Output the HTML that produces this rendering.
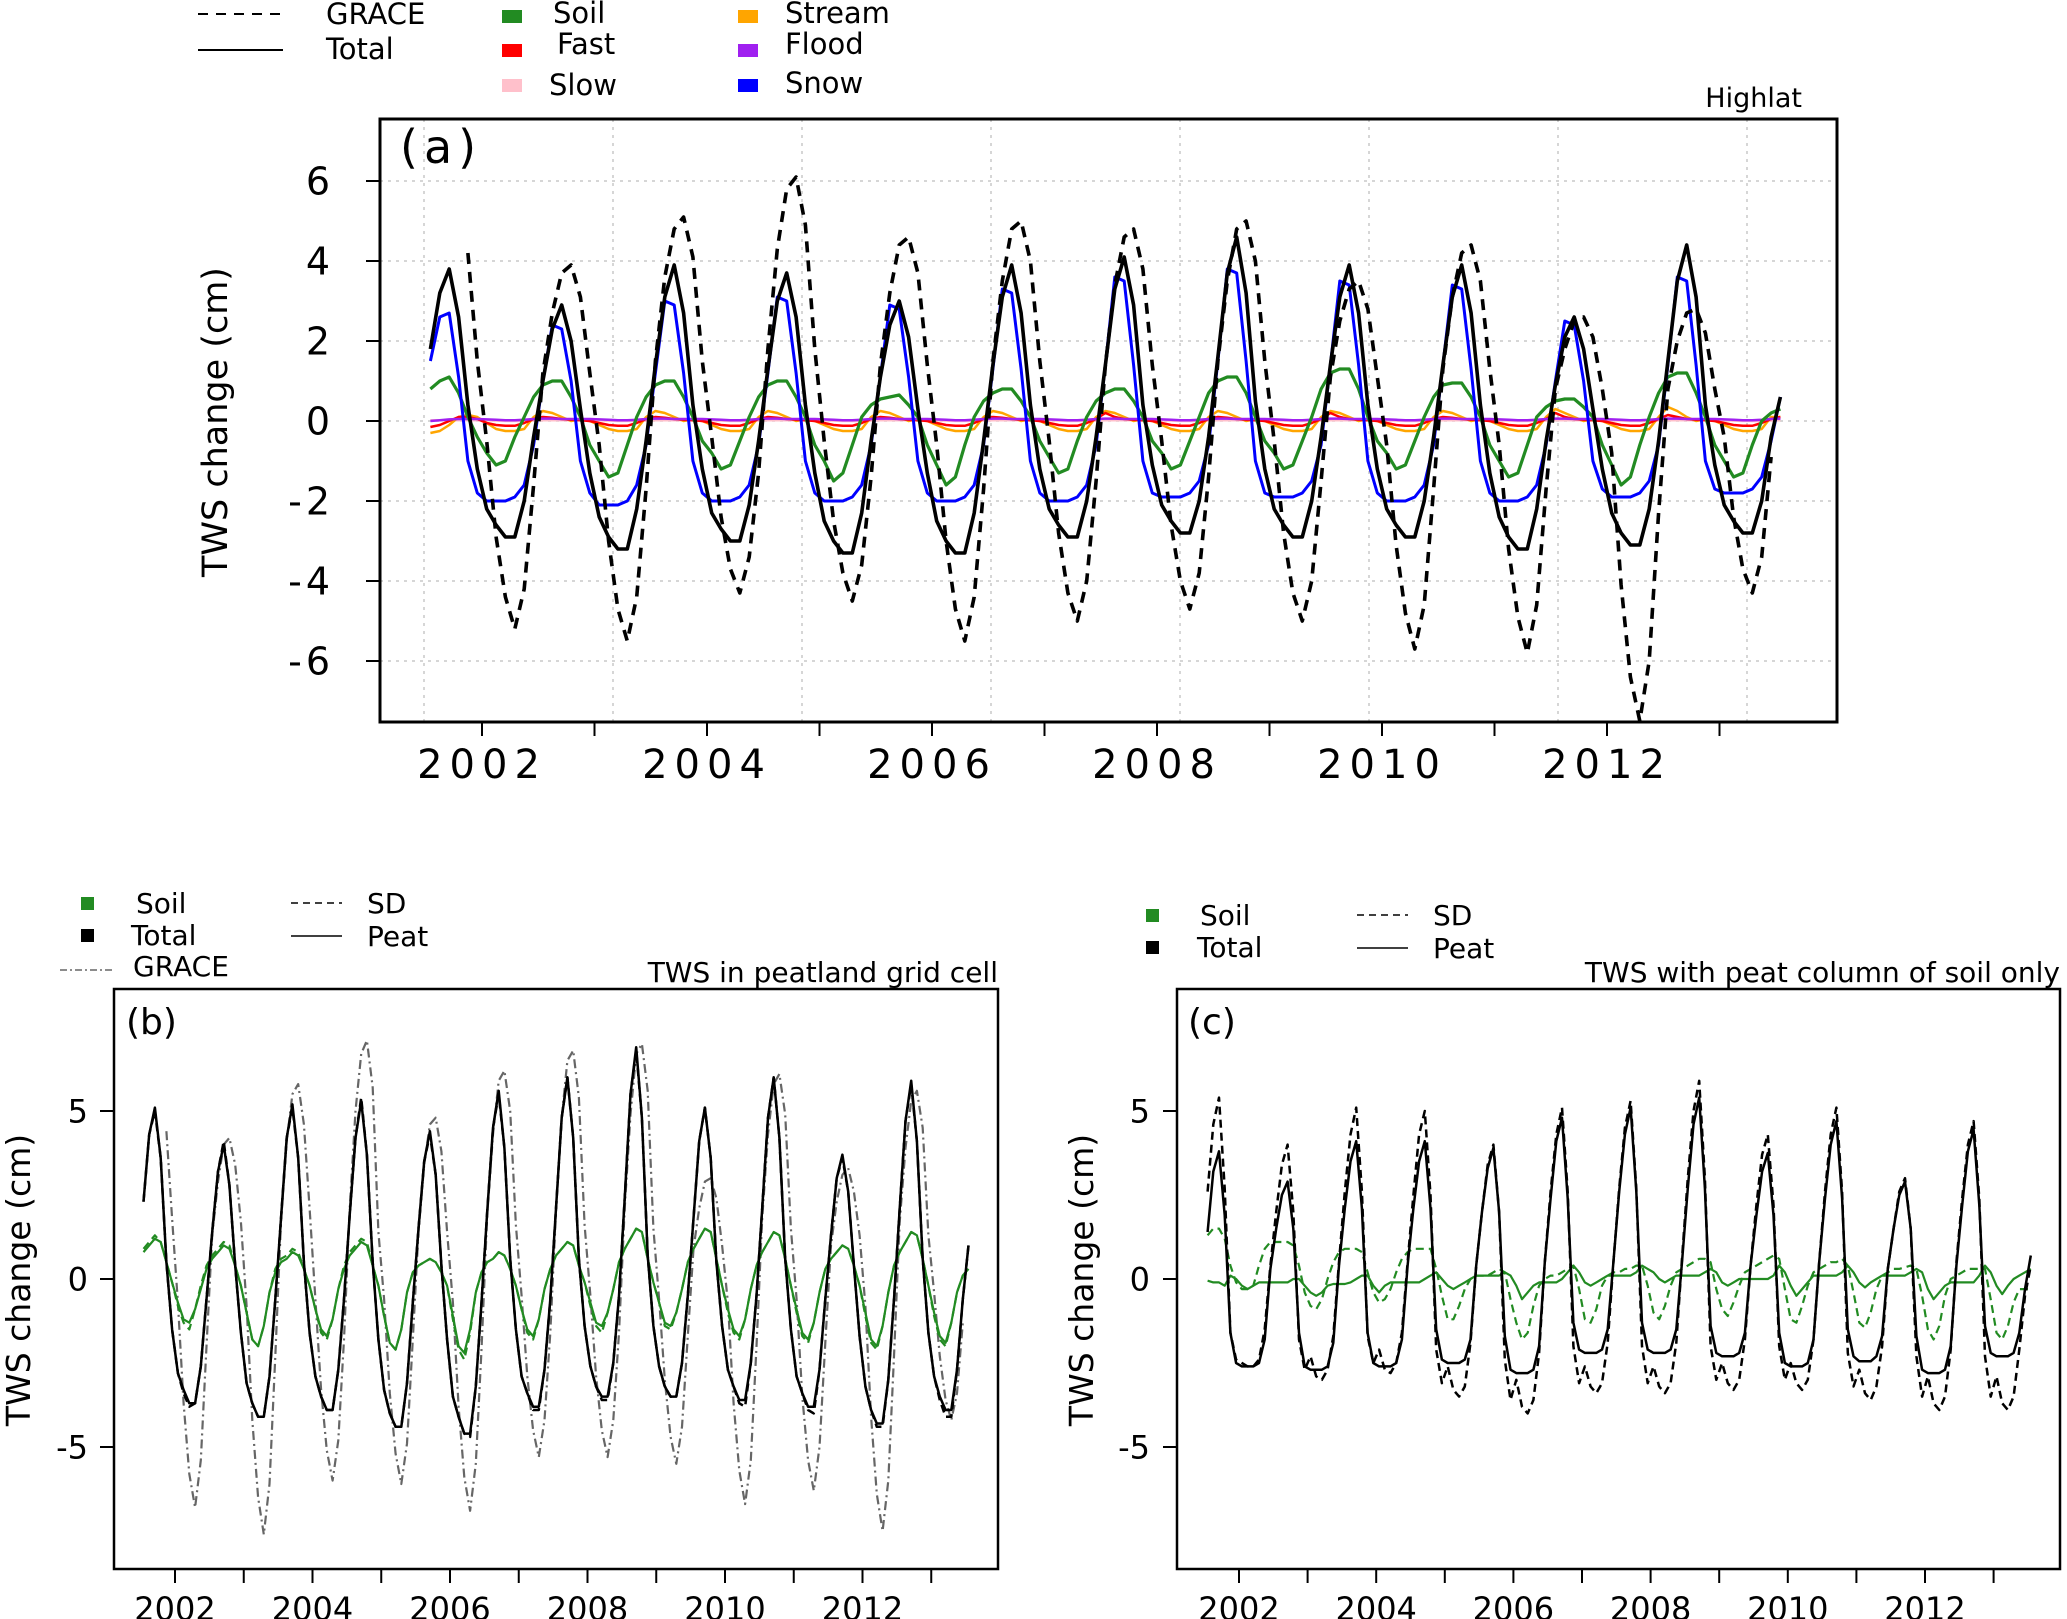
<!DOCTYPE html>
<html><head><meta charset="utf-8"><title>TWS change</title>
<style>
html,body{margin:0;padding:0;background:#fff;}
svg{display:block;font-family:"DejaVu Sans","Liberation Sans",sans-serif;}
</style></head>
<body>
<svg id="chart" width="2067" height="1619" viewBox="0 0 2067 1619" xmlns="http://www.w3.org/2000/svg">
<rect x="0" y="0" width="2067" height="1619" fill="#fff"/>
<!-- Panel a legend -->
<g font-size="29">
<line x1="198" y1="14" x2="283" y2="14" stroke="#000" stroke-width="2" stroke-dasharray="10,8"/>
<text x="326" y="24">GRACE</text>
<line x1="198" y1="50" x2="283" y2="50" stroke="#000" stroke-width="2"/>
<text x="326" y="59">Total</text>
<rect x="502" y="10" width="20" height="13" fill="#228B22"/>
<text x="553" y="23">Soil</text>
<rect x="502" y="44" width="20" height="13" fill="#ff0000"/>
<text x="557" y="54">Fast</text>
<rect x="502" y="79" width="20" height="13" fill="#ffc0cb"/>
<text x="549" y="95">Slow</text>
<rect x="738" y="10" width="20" height="13" fill="#ffa500"/>
<text x="785" y="23">Stream</text>
<rect x="738" y="44" width="20" height="13" fill="#a020f0"/>
<text x="785" y="54">Flood</text>
<rect x="738" y="79" width="20" height="13" fill="#0000ff"/>
<text x="785" y="93">Snow</text>
</g>
<text x="1802" y="107" font-size="27" text-anchor="end">Highlat</text>
<!-- Panel b legend -->
<g font-size="28">
<rect x="81" y="897" width="13" height="13" fill="#228B22"/>
<text x="136" y="913">Soil</text>
<rect x="81" y="929" width="13" height="13" fill="#000"/>
<text x="131" y="945">Total</text>
<line x1="60" y1="970" x2="113" y2="970" stroke="#666" stroke-width="1.5" stroke-dasharray="7,3,2,3"/>
<text x="133" y="976">GRACE</text>
<line x1="291" y1="903" x2="342" y2="903" stroke="#000" stroke-width="1.5" stroke-dasharray="7,5"/>
<text x="367" y="913">SD</text>
<line x1="291" y1="936" x2="342" y2="936" stroke="#000" stroke-width="1.5"/>
<text x="367" y="946">Peat</text>
</g>
<text x="998" y="982" font-size="28" text-anchor="end">TWS in peatland grid cell</text>
<!-- Panel c legend -->
<g font-size="28">
<rect x="1146" y="909" width="13" height="13" fill="#228B22"/>
<text x="1200" y="925">Soil</text>
<rect x="1146" y="941" width="13" height="13" fill="#000"/>
<text x="1197" y="957">Total</text>
<line x1="1357" y1="915" x2="1408" y2="915" stroke="#000" stroke-width="1.5" stroke-dasharray="7,5"/>
<text x="1433" y="925">SD</text>
<line x1="1357" y1="948" x2="1408" y2="948" stroke="#000" stroke-width="1.5"/>
<text x="1433" y="958">Peat</text>
</g>
<text x="2060" y="982" font-size="28" text-anchor="end">TWS with peat column of soil only</text>
</svg>
<script>
// ---------- data (monthly, starting Jul 2001) ----------
const startMonthIndex = 6; // Jul 2001
const yearTicks = [2002,2003,2004,2005,2006,2007,2008,2009,2010,2011,2012,2013];
const yearLabels = ["2002","2004","2006","2008","2010","2012"];
const yTicksA = [6,4,2,0,-2,-4,-6];
const yTicksBC = [5,0,-5];

// Panel a
const aTotal = [1.8,3.2,3.8,2.6,0.4,-1.2,
-2.2,-2.6,-2.9,-2.9,-2.0,-0.4,1.0,2.3,2.9,2.0,0.3,-1.3,
-2.4,-2.9,-3.2,-3.2,-2.2,-0.5,1.4,3.1,3.9,2.7,0.4,-1.2,
-2.3,-2.7,-3.0,-3.0,-2.1,-0.5,1.3,3.0,3.7,2.6,0.4,-1.3,
-2.5,-3.0,-3.3,-3.3,-2.3,-0.5,1.1,2.4,3.0,2.1,0.3,-1.3,
-2.5,-3.0,-3.3,-3.3,-2.3,-0.5,1.4,3.1,3.9,2.7,0.4,-1.2,
-2.2,-2.6,-2.9,-2.9,-2.0,-0.4,1.4,3.3,4.1,2.9,0.4,-1.1,
-2.1,-2.5,-2.8,-2.8,-2.0,-0.4,1.6,3.7,4.6,3.2,0.5,-1.2,
-2.2,-2.6,-2.9,-2.9,-2.0,-0.4,1.4,3.1,3.9,2.7,0.4,-1.2,
-2.2,-2.6,-2.9,-2.9,-2.0,-0.4,1.4,3.1,3.9,2.7,0.4,-1.3,
-2.4,-2.9,-3.2,-3.2,-2.2,-0.5,0.9,2.1,2.6,1.8,0.3,-1.2,
-2.3,-2.8,-3.1,-3.1,-2.2,-0.5,1.5,3.5,4.4,3.1,0.4,-1.1,
-2.1,-2.5,-2.8,-2.8,-2.0,-0.4,0.6];
const graceStartOffset = 4; // Nov 2001
const aGrace = [4.2,1.5,
-0.5,-2.9,-4.4,-5.2,-4.2,-1.6,1.2,2.7,3.7,3.9,3.1,1.2,
-0.6,-3.0,-4.7,-5.5,-4.4,-1.7,1.5,3.6,4.8,5.1,4.1,1.5,
-0.4,-2.4,-3.7,-4.3,-3.4,-1.3,1.8,4.3,5.8,6.1,4.9,1.8,
-0.5,-2.5,-3.8,-4.5,-3.6,-1.4,1.4,3.2,4.4,4.6,3.7,1.4,
-0.6,-3.0,-4.7,-5.5,-4.4,-1.7,1.5,3.5,4.8,5.0,4.0,1.5,
-0.5,-2.8,-4.3,-5.0,-4.0,-1.5,1.4,3.4,4.6,4.8,3.8,1.4,
-0.5,-2.6,-4.0,-4.7,-3.8,-1.4,1.5,3.5,4.8,5.0,4.0,1.5,
-0.5,-2.8,-4.3,-5.0,-4.0,-1.5,1.1,2.5,3.3,3.5,2.8,1.1,
-0.6,-3.1,-4.8,-5.7,-4.6,-1.7,1.3,3.1,4.2,4.4,3.5,1.3,
-0.6,-3.2,-4.9,-5.8,-4.6,-1.7,0.8,1.8,2.5,2.6,2.1,0.8,
-0.8,-4.1,-6.4,-7.5,-6.0,-2.3,0.8,2.0,2.7,2.8,2.2,0.8,
-0.4,-2.4,-3.7,-4.3,-3.4,-0.9];
const aSnow = [1.5,2.6,2.7,1.1,-1.0,-1.8,
-2.0,-2.0,-2.0,-1.9,-1.6,-0.6,1.0,2.4,2.3,1.0,-1.0,-1.8,
-2.1,-2.1,-2.1,-2.0,-1.6,-0.6,1.2,3.0,2.9,1.2,-1.0,-1.8,
-2.0,-2.0,-2.0,-1.9,-1.6,-0.6,1.2,3.1,3.0,1.2,-1.0,-1.8,
-2.0,-2.0,-2.0,-1.9,-1.6,-0.6,1.1,2.9,2.8,1.1,-1.0,-1.8,
-2.0,-2.0,-2.0,-1.9,-1.6,-0.6,1.3,3.3,3.2,1.3,-1.0,-1.8,
-2.0,-2.0,-2.0,-1.9,-1.6,-0.6,1.4,3.6,3.5,1.4,-1.0,-1.8,
-1.9,-1.9,-1.9,-1.8,-1.5,-0.6,1.5,3.8,3.7,1.5,-1.0,-1.8,
-1.9,-1.9,-1.9,-1.8,-1.5,-0.6,1.4,3.5,3.4,1.4,-1.0,-1.8,
-2.0,-2.0,-2.0,-1.9,-1.6,-0.6,1.4,3.4,3.3,1.3,-1.0,-1.8,
-2.0,-2.0,-2.0,-1.9,-1.6,-0.6,1.0,2.5,2.4,1.0,-1.0,-1.7,
-1.9,-1.9,-1.9,-1.8,-1.5,-0.6,1.4,3.6,3.5,1.4,-1.0,-1.7,
-1.8,-1.8,-1.8,-1.7,-1.4,-0.5,0.6];
const aSoil = [0.8,1.0,1.1,0.7,0.1,-0.4,
-0.8,-1.1,-1.0,-0.4,0.1,0.6,0.9,1.0,1.0,0.6,0.1,-0.6,
-1.0,-1.4,-1.3,-0.6,0.1,0.6,0.9,1.0,1.0,0.6,0.1,-0.5,
-0.8,-1.2,-1.1,-0.5,0.1,0.6,0.9,1.0,1.0,0.6,0.1,-0.6,
-1.0,-1.5,-1.3,-0.6,0.1,0.4,0.55,0.6,0.65,0.4,0.1,-0.6,
-1.1,-1.6,-1.4,-0.6,0.1,0.5,0.7,0.8,0.8,0.5,0.1,-0.5,
-0.9,-1.3,-1.2,-0.5,0.1,0.5,0.7,0.8,0.8,0.5,0.1,-0.5,
-0.8,-1.2,-1.1,-0.5,0.1,0.7,1.0,1.1,1.1,0.7,0.1,-0.5,
-0.8,-1.2,-1.1,-0.5,0.1,0.8,1.2,1.3,1.3,0.8,0.1,-0.5,
-0.8,-1.2,-1.1,-0.5,0.1,0.6,0.9,0.95,0.95,0.6,0.1,-0.6,
-1.0,-1.4,-1.3,-0.6,0.1,0.35,0.5,0.55,0.55,0.35,0.1,-0.6,
-1.1,-1.6,-1.4,-0.6,0.1,0.7,1.1,1.2,1.2,0.7,0.1,-0.6,
-1.0,-1.4,-1.3,-0.6,0.0,0.2,0.3];
const aStream = [-0.3,-0.25,-0.1,0.1,0.15,0.1,
-0.05,-0.2,-0.25,-0.25,-0.2,0.1,0.25,0.2,0.1,0.0,0.05,0.0,
-0.1,-0.2,-0.25,-0.25,-0.2,0.1,0.25,0.2,0.1,0.0,0.05,0.0,
-0.1,-0.2,-0.25,-0.25,-0.2,0.1,0.25,0.2,0.1,0.0,0.05,0.0,
-0.1,-0.2,-0.25,-0.25,-0.2,0.1,0.25,0.2,0.1,0.0,0.05,0.0,
-0.1,-0.2,-0.25,-0.25,-0.2,0.1,0.25,0.2,0.1,0.0,0.05,0.0,
-0.1,-0.2,-0.25,-0.25,-0.2,0.1,0.25,0.2,0.1,0.0,0.05,0.0,
-0.1,-0.2,-0.25,-0.25,-0.2,0.1,0.25,0.2,0.1,0.0,0.05,0.0,
-0.1,-0.2,-0.25,-0.25,-0.2,0.1,0.25,0.2,0.1,0.0,0.05,0.0,
-0.1,-0.2,-0.25,-0.25,-0.2,0.1,0.25,0.2,0.1,0.0,0.05,0.0,
-0.1,-0.2,-0.25,-0.25,-0.2,0.1,0.3,0.2,0.1,0.0,0.05,0.0,
-0.1,-0.2,-0.25,-0.25,-0.2,0.1,0.35,0.25,0.1,0.0,0.05,0.0,
-0.1,-0.2,-0.25,-0.25,-0.2,0.1,0.1];
const aFast = [-0.15,-0.1,0.0,0.1,0.1,0.05,
-0.05,-0.1,-0.12,-0.12,-0.05,0.05,0.1,0.08,0.05,0.03,0.02,0.0,
-0.05,-0.1,-0.12,-0.12,-0.05,0.05,0.1,0.08,0.05,0.03,0.02,0.0,
-0.05,-0.1,-0.12,-0.12,-0.05,0.05,0.1,0.08,0.05,0.03,0.02,0.0,
-0.05,-0.1,-0.12,-0.12,-0.05,0.05,0.1,0.08,0.05,0.03,0.02,0.0,
-0.05,-0.1,-0.12,-0.12,-0.05,0.05,0.1,0.08,0.05,0.03,0.02,0.0,
-0.05,-0.1,-0.12,-0.12,-0.05,0.05,0.2,0.1,0.05,0.03,0.02,0.0,
-0.05,-0.1,-0.12,-0.12,-0.05,0.05,0.1,0.08,0.05,0.03,0.02,0.0,
-0.05,-0.1,-0.12,-0.12,-0.05,0.05,0.2,0.1,0.05,0.03,0.02,0.0,
-0.05,-0.1,-0.12,-0.12,-0.05,0.05,0.1,0.08,0.05,0.03,0.02,0.0,
-0.05,-0.1,-0.12,-0.12,-0.05,0.05,0.2,0.1,0.05,0.03,0.02,0.0,
-0.05,-0.1,-0.12,-0.12,-0.05,0.05,0.15,0.1,0.05,0.03,0.02,0.0,
-0.05,-0.1,-0.12,-0.12,-0.05,0.05,0.1];
const aSlow = [0.02,0.02,0.02,0.02,0.02,0.02,
0.02,0.01,0.0,0.0,0.0,0.01,0.02,0.02,0.02,0.02,0.02,0.02,
0.02,0.01,0.0,0.0,0.0,0.01,0.02,0.02,0.02,0.02,0.02,0.02,
0.02,0.01,0.0,0.0,0.0,0.01,0.02,0.02,0.02,0.02,0.02,0.02,
0.02,0.01,0.0,0.0,0.0,0.01,0.02,0.02,0.02,0.02,0.02,0.02,
0.02,0.01,0.0,0.0,0.0,0.01,0.02,0.02,0.02,0.02,0.02,0.02,
0.02,0.01,0.0,0.0,0.0,0.01,0.02,0.02,0.02,0.02,0.02,0.02,
0.02,0.01,0.0,0.0,0.0,0.01,0.02,0.02,0.02,0.02,0.02,0.02,
0.02,0.01,0.0,0.0,0.0,0.01,0.02,0.02,0.02,0.02,0.02,0.02,
0.02,0.01,0.0,0.0,0.0,0.01,0.02,0.02,0.02,0.02,0.02,0.02,
0.02,0.01,0.0,0.0,0.0,0.01,0.02,0.02,0.02,0.02,0.02,0.02,
0.02,0.01,0.0,0.0,0.0,0.01,0.02,0.02,0.02,0.02,0.02,0.02,
0.02,0.01,0.0,0.0,0.0,0.01,0.02];
const aFlood = [0.0,0.02,0.04,0.05,0.05,0.05,
0.04,0.03,0.02,0.02,0.03,0.05,0.06,0.06,0.05,0.05,0.05,0.05,
0.04,0.03,0.02,0.02,0.03,0.05,0.06,0.06,0.05,0.05,0.05,0.05,
0.04,0.03,0.02,0.02,0.03,0.05,0.06,0.06,0.05,0.05,0.05,0.05,
0.04,0.03,0.02,0.02,0.03,0.05,0.06,0.06,0.05,0.05,0.05,0.05,
0.04,0.03,0.02,0.02,0.03,0.05,0.06,0.06,0.05,0.05,0.05,0.05,
0.04,0.03,0.02,0.02,0.03,0.05,0.06,0.06,0.05,0.05,0.05,0.05,
0.04,0.03,0.02,0.02,0.03,0.05,0.06,0.06,0.05,0.05,0.05,0.05,
0.04,0.03,0.02,0.02,0.03,0.05,0.06,0.06,0.05,0.05,0.05,0.05,
0.04,0.03,0.02,0.02,0.03,0.05,0.06,0.06,0.05,0.05,0.05,0.05,
0.04,0.03,0.02,0.02,0.03,0.05,0.06,0.06,0.05,0.05,0.05,0.05,
0.04,0.03,0.02,0.02,0.03,0.05,0.06,0.06,0.05,0.05,0.05,0.05,
0.04,0.03,0.02,0.02,0.03,0.05,0.06];

// Panel b
const bPeatTotal = [2.3,4.3,5.1,3.6,0.5,-1.5,
-2.8,-3.3,-3.7,-3.7,-2.6,-0.6,1.4,3.2,4.0,2.8,0.4,-1.6,
-3.1,-3.7,-4.1,-4.1,-2.9,-0.6,1.8,4.2,5.2,3.6,0.5,-1.6,
-2.9,-3.5,-3.9,-3.9,-2.7,-0.6,1.9,4.2,5.3,3.7,0.5,-1.8,
-3.3,-4.0,-4.4,-4.4,-3.1,-0.7,1.5,3.5,4.4,3.1,0.4,-1.8,
-3.5,-4.1,-4.6,-4.6,-3.2,-0.7,2.0,4.5,5.6,3.9,0.6,-1.5,
-2.9,-3.4,-3.8,-3.8,-2.7,-0.6,2.1,4.8,6.0,4.2,0.6,-1.4,
-2.6,-3.2,-3.5,-3.5,-2.5,-0.5,2.4,5.5,6.9,4.8,0.7,-1.4,
-2.6,-3.2,-3.5,-3.5,-2.5,-0.5,1.8,4.1,5.1,3.6,0.5,-1.4,
-2.7,-3.2,-3.6,-3.6,-2.5,-0.5,2.1,4.8,6.0,4.2,0.6,-1.5,
-2.9,-3.4,-3.8,-3.8,-2.7,-0.6,1.3,3.0,3.7,2.6,0.4,-1.7,
-3.2,-3.9,-4.3,-4.3,-3.0,-0.6,2.1,4.7,5.9,4.1,0.6,-1.6,
-2.9,-3.5,-3.9,-3.9,-2.7,-0.6,1.0];
const bSdTotal = [2.3,4.3,5.0,3.6,0.5,-1.5,
-2.8,-3.4,-3.8,-3.7,-2.6,-0.6,1.4,3.2,4.1,2.8,0.4,-1.6,
-3.1,-3.7,-4.1,-4.1,-2.9,-0.6,1.8,4.2,5.1,3.6,0.5,-1.6,
-2.9,-3.5,-3.9,-3.9,-2.7,-0.6,1.9,4.2,5.4,3.7,0.5,-1.8,
-3.3,-4.0,-4.4,-4.4,-3.1,-0.7,1.5,3.5,4.3,3.1,0.4,-1.8,
-3.5,-4.1,-4.6,-4.7,-3.2,-0.7,2.0,4.5,5.5,3.9,0.6,-1.5,
-2.9,-3.4,-3.9,-3.9,-2.7,-0.6,2.1,4.8,6.0,4.2,0.6,-1.4,
-2.6,-3.2,-3.6,-3.6,-2.5,-0.5,2.4,5.5,6.8,4.8,0.7,-1.4,
-2.6,-3.2,-3.5,-3.5,-2.5,-0.5,1.8,4.1,5.1,3.6,0.5,-1.4,
-2.7,-3.2,-3.7,-3.8,-2.5,-0.5,2.1,4.8,6.0,4.2,0.6,-1.5,
-2.9,-3.4,-3.9,-4.0,-2.7,-0.6,1.3,3.0,3.6,2.6,0.4,-1.7,
-3.2,-3.9,-4.4,-4.4,-3.0,-0.6,2.1,4.7,5.8,4.1,0.6,-1.6,
-2.9,-3.6,-4.1,-4.1,-2.7,-0.6,1.0];
const bGrace = [4.4,1.8,
-0.7,-3.7,-5.8,-6.8,-5.4,-2.0,1.3,2.9,4.0,4.2,3.4,1.7,
-0.8,-4.2,-6.5,-7.6,-6.1,-2.3,1.7,4.1,5.5,5.8,4.6,2.1,
-0.6,-3.3,-5.1,-6.0,-4.8,-1.8,2.1,5.0,6.7,7.1,5.7,1.4,
-0.6,-3.4,-5.2,-6.1,-4.9,-1.8,1.4,3.4,4.6,4.8,3.8,1.4,
-0.7,-3.8,-5.9,-6.9,-5.5,-2.1,1.9,4.3,5.9,6.2,5.0,1.6,
-0.5,-2.9,-4.5,-5.3,-4.2,-1.6,2.0,4.8,6.5,6.8,5.4,1.6,
-0.5,-2.9,-4.5,-5.3,-4.2,-1.6,2.1,4.9,6.7,7.0,5.6,1.5,
-0.6,-3.0,-4.7,-5.5,-4.4,-1.7,0.9,2.1,2.9,3.0,2.4,1.0,
-0.7,-3.7,-5.7,-6.7,-5.4,-2.0,1.8,4.3,5.8,6.1,4.9,1.5,
-0.6,-3.5,-5.4,-6.3,-5.0,-1.9,1.0,2.3,3.1,3.3,2.6,1.3,
-0.8,-4.1,-6.4,-7.5,-6.0,-2.3,1.7,3.9,5.3,5.6,4.5,1.3,
-0.4,-2.3,-3.6,-4.2,-3.4,-1.3];
const bPeatSoil = [0.8,1.0,1.2,1.1,0.5,-0.1,
-0.7,-1.2,-1.3,-0.9,-0.3,0.3,0.6,0.8,1.0,0.9,0.4,-0.2,
-1.0,-1.8,-2.0,-1.4,-0.4,0.2,0.5,0.6,0.8,0.7,0.3,-0.2,
-0.9,-1.5,-1.7,-1.2,-0.3,0.3,0.7,0.9,1.1,1.0,0.4,-0.2,
-1.1,-1.9,-2.1,-1.5,-0.4,0.2,0.4,0.5,0.6,0.5,0.2,-0.2,
-1.1,-2.0,-2.2,-1.5,-0.4,0.2,0.5,0.6,0.8,0.7,0.3,-0.2,
-0.9,-1.5,-1.7,-1.2,-0.3,0.3,0.7,0.9,1.1,1.0,0.4,-0.1,
-0.7,-1.3,-1.4,-1.0,-0.3,0.5,0.9,1.2,1.5,1.4,0.6,-0.1,
-0.7,-1.3,-1.4,-1.0,-0.3,0.5,0.9,1.2,1.5,1.4,0.6,-0.2,
-0.9,-1.5,-1.7,-1.2,-0.3,0.4,0.8,1.1,1.4,1.3,0.6,-0.2,
-0.9,-1.6,-1.8,-1.3,-0.4,0.3,0.6,0.8,1.0,0.9,0.4,-0.2,
-1.0,-1.8,-2.0,-1.4,-0.4,0.4,0.8,1.1,1.4,1.3,0.6,-0.2,
-1.0,-1.7,-1.9,-1.3,-0.4,0.1,0.3];
const bSdSoil = [0.9,1.1,1.3,1.1,0.5,-0.1,
-0.8,-1.3,-1.5,-0.9,-0.2,0.4,0.7,0.9,1.1,1.0,0.4,-0.2,
-1.0,-1.8,-2.0,-1.4,-0.4,0.3,0.6,0.7,0.9,0.8,0.3,-0.2,
-0.9,-1.6,-1.8,-1.2,-0.3,0.4,0.8,1.0,1.2,1.1,0.4,-0.2,
-1.1,-1.9,-2.1,-1.5,-0.4,0.2,0.4,0.5,0.6,0.5,0.2,-0.2,
-1.2,-2.1,-2.4,-1.6,-0.4,0.2,0.5,0.6,0.8,0.7,0.3,-0.2,
-0.9,-1.6,-1.8,-1.2,-0.3,0.3,0.7,0.9,1.1,1.0,0.4,-0.1,
-0.8,-1.4,-1.6,-1.0,-0.3,0.5,0.9,1.2,1.5,1.4,0.6,-0.1,
-0.7,-1.4,-1.5,-1.0,-0.3,0.5,0.9,1.2,1.5,1.4,0.6,-0.2,
-1.0,-1.6,-1.8,-1.2,-0.3,0.4,0.8,1.1,1.4,1.3,0.6,-0.2,
-1.0,-1.7,-1.9,-1.3,-0.4,0.3,0.6,0.8,1.0,0.9,0.4,-0.2,
-1.1,-1.9,-2.1,-1.4,-0.4,0.4,0.8,1.1,1.4,1.3,0.6,-0.2,
-1.1,-1.8,-2.0,-1.3,-0.4,0.1,0.3];

// Panel c
const cPeatTotal = [1.4,3.2,3.8,1.9,-1.6,-2.5,
-2.6,-2.6,-2.6,-2.5,-1.8,0.3,1.5,2.5,2.9,1.5,-1.6,-2.6,
-2.7,-2.7,-2.7,-2.6,-1.9,0.4,2.1,3.5,4.1,2.1,-1.6,-2.5,
-2.6,-2.6,-2.6,-2.5,-1.8,0.4,2.1,3.5,4.1,2.1,-1.5,-2.4,
-2.5,-2.5,-2.5,-2.4,-1.8,0.4,2.0,3.3,3.9,2.0,-1.7,-2.7,
-2.8,-2.8,-2.8,-2.7,-2.0,0.5,2.4,4.1,4.8,2.4,-1.3,-2.1,
-2.2,-2.2,-2.2,-2.1,-1.5,0.5,2.6,4.3,5.1,2.6,-1.3,-2.1,
-2.2,-2.2,-2.2,-2.1,-1.5,0.5,2.7,4.6,5.4,2.7,-1.4,-2.2,
-2.3,-2.3,-2.3,-2.2,-1.6,0.4,1.9,3.2,3.75,1.9,-1.6,-2.5,
-2.6,-2.6,-2.6,-2.5,-1.8,0.5,2.4,4.0,4.7,2.4,-1.5,-2.3,
-2.45,-2.45,-2.45,-2.3,-1.7,0.3,1.5,2.5,2.9,1.5,-1.7,-2.7,
-2.8,-2.8,-2.8,-2.7,-2.0,0.4,2.2,3.8,4.45,2.2,-1.4,-2.2,
-2.3,-2.3,-2.3,-2.2,-1.6,-0.3,0.7];
const cSdTotal = [2.6,4.6,5.4,2.7,-1.6,-2.4,
-2.5,-2.6,-2.6,-2.4,-1.5,0.4,2.0,3.4,4.0,2.0,-1.8,-2.7,
-2.3,-2.9,-3.0,-2.7,-1.7,0.5,2.6,4.3,5.1,2.6,-1.7,-2.5,
-2.1,-2.7,-2.8,-2.5,-1.6,0.5,2.5,4.3,5.0,2.5,-2.1,-3.1,
-2.6,-3.3,-3.5,-3.2,-1.9,0.4,2.0,3.4,4.0,2.0,-2.4,-3.6,
-3.0,-3.8,-4.0,-3.6,-2.2,0.5,2.6,4.3,5.1,2.6,-2.0,-3.1,
-2.6,-3.2,-3.4,-3.1,-1.9,0.5,2.7,4.5,5.3,2.7,-2.0,-3.1,
-2.6,-3.2,-3.4,-3.1,-1.9,0.6,3.0,5.0,5.9,3.0,-2.0,-3.0,
-2.5,-3.1,-3.3,-3.0,-1.8,0.4,2.2,3.7,4.3,2.2,-2.0,-3.0,
-2.5,-3.1,-3.3,-3.0,-1.8,0.5,2.6,4.3,5.1,2.6,-2.2,-3.2,
-2.7,-3.4,-3.6,-3.2,-2.0,0.3,1.5,2.6,3.0,1.5,-2.3,-3.5,
-2.9,-3.7,-3.9,-3.5,-2.1,0.5,2.4,4.0,4.7,2.4,-2.3,-3.5,
-2.9,-3.7,-3.9,-3.5,-2.1,-0.5,0.4];
const cPeatSoil = [-0.05,-0.1,-0.1,-0.2,0.1,0.0,
-0.2,-0.3,-0.2,-0.1,-0.1,-0.1,-0.1,-0.1,-0.1,0.0,0.0,-0.2,
-0.4,-0.5,-0.4,-0.2,-0.15,-0.15,-0.15,-0.1,0.0,0.1,0.1,-0.2,
-0.4,-0.2,-0.1,-0.1,-0.1,-0.1,-0.1,-0.1,0.0,0.1,0.2,0.0,
-0.2,-0.3,-0.2,-0.1,0.0,0.1,0.1,0.1,0.1,0.1,0.2,0.1,
-0.2,-0.6,-0.4,-0.2,-0.1,-0.1,-0.1,-0.1,0.0,0.2,0.4,0.2,
-0.1,-0.2,-0.1,0.0,0.1,0.1,0.1,0.1,0.1,0.2,0.4,0.3,
0.2,0.0,-0.1,0.0,0.1,0.1,0.1,0.1,0.1,0.2,0.3,0.2,
-0.1,-0.2,-0.1,0.0,0.0,0.0,0.0,0.0,0.0,0.1,0.4,0.2,
-0.2,-0.5,-0.3,-0.1,0.1,0.1,0.1,0.1,0.1,0.2,0.4,0.2,
-0.1,-0.25,-0.1,0.0,0.1,0.1,0.1,0.1,0.1,0.2,0.3,0.2,
-0.3,-0.6,-0.4,-0.2,-0.1,-0.1,-0.1,-0.1,-0.1,0.1,0.4,0.2,
-0.2,-0.45,-0.2,0.0,0.1,0.2,0.3];
const cSdSoil = [1.3,1.5,1.5,1.2,0.4,-0.1,
-0.3,-0.3,-0.2,0.4,0.9,1.1,1.1,1.1,1.1,1.0,0.4,-0.4,
-0.8,-0.9,-0.6,0.0,0.5,0.8,0.9,0.9,0.9,0.8,0.2,-0.4,
-0.7,-0.6,-0.3,0.2,0.6,0.8,0.9,0.9,0.9,0.9,0.3,-0.5,
-1.2,-1.2,-0.8,-0.3,0.0,0.1,0.1,0.1,0.2,0.3,0.2,-0.6,
-1.3,-1.8,-1.6,-0.8,-0.2,0.0,0.1,0.1,0.2,0.3,0.4,-0.3,
-1.2,-1.3,-0.9,-0.2,0.1,0.2,0.2,0.3,0.3,0.4,0.4,-0.2,
-1.0,-1.2,-0.8,-0.2,0.2,0.3,0.4,0.5,0.6,0.6,0.5,-0.3,
-0.9,-1.1,-0.7,-0.2,0.2,0.3,0.4,0.5,0.6,0.7,0.6,-0.3,
-1.2,-1.3,-0.8,-0.2,0.2,0.3,0.4,0.5,0.5,0.6,0.4,-0.4,
-1.3,-1.45,-1.0,-0.3,0.1,0.2,0.3,0.3,0.35,0.4,0.3,-0.5,
-1.5,-1.8,-1.4,-0.5,0.0,0.1,0.2,0.3,0.3,0.3,0.3,-0.6,
-1.6,-1.8,-1.4,-0.7,-0.3,-0.3,-0.3];

// ---------- drawing ----------
const NS = "http://www.w3.org/2000/svg";
const svg = document.getElementById("chart");
function mk(tag, parent){ const e=document.createElementNS(NS,tag); parent.appendChild(e); return e; }
function monthTime(i, off){ return 2001 + (startMonthIndex + (off||0) + i + 0.5)/12; }

function makePanel(cfg){
  const g = mk("g", svg);
  
  
  const xs = y => cfg.x0 + (y - 2002) * cfg.xPerYear;
  const ys = v => cfg.yZero - v * cfg.yPerUnit;
  cfg.xs = xs; cfg.ys = ys; cfg.g = g;
  // grid
  if (cfg.grid){
    cfg.yTicks.forEach(v=>{
      const l = mk("line", g);
      
      
      l.setAttribute("x1",cfg.left); l.setAttribute("x2",cfg.right);
      l.setAttribute("y1",ys(v)); l.setAttribute("y2",ys(v));
      l.setAttribute("stroke","#c8c8c8"); l.setAttribute("stroke-width","1.5"); l.setAttribute("stroke-dasharray","3,5");
    });
    for (let gx = cfg.gridStart; gx < cfg.right; gx += cfg.gridStep){
      const l = mk("line", g);
      
      
      l.setAttribute("x1",gx); l.setAttribute("x2",gx);
      l.setAttribute("y1",cfg.top); l.setAttribute("y2",cfg.bottom);
      l.setAttribute("stroke","#c8c8c8"); l.setAttribute("stroke-width","1.5"); l.setAttribute("stroke-dasharray","3,5");
    }
  }
  // clip
  const cp = mk("clipPath", g); cp.setAttribute("id", cfg.name+"-clip");
  const cr = mk("rect", cp);
  cr.setAttribute("x",cfg.left); cr.setAttribute("y",cfg.top);
  cr.setAttribute("width",cfg.right-cfg.left); cr.setAttribute("height",cfg.bottom-cfg.top);
  const plot = mk("g", g);
  
  
  plot.setAttribute("clip-path","url(#"+cfg.name+"-clip)");
  cfg.plot = plot;
  // box
  const box = mk("rect", g);
  
  
  box.setAttribute("x",cfg.left); box.setAttribute("y",cfg.top);
  box.setAttribute("width",cfg.right-cfg.left); box.setAttribute("height",cfg.bottom-cfg.top);
  box.setAttribute("fill","none"); box.setAttribute("stroke","#000"); box.setAttribute("stroke-width",cfg.frameW);
  // y ticks
  cfg.yTicks.forEach(v=>{
    const t = mk("line", g);
    
    
    t.setAttribute("x1",cfg.left-cfg.tickLen); t.setAttribute("x2",cfg.left);
    t.setAttribute("y1",ys(v)); t.setAttribute("y2",ys(v));
    t.setAttribute("stroke","#000"); t.setAttribute("stroke-width","2");
    const tx = mk("text", g);
    
    
    tx.setAttribute("x",cfg.yLabelX); tx.setAttribute("y",ys(v)+cfg.yFont*0.36);
    tx.setAttribute("text-anchor","end"); tx.setAttribute("font-size",cfg.yFont);
    tx.setAttribute("letter-spacing",cfg.yLS);
    tx.textContent = String(v);
  });
  // x ticks
  yearTicks.forEach(yr=>{
    const t = mk("line", g);
    
    
    t.setAttribute("x1",xs(yr)); t.setAttribute("x2",xs(yr));
    t.setAttribute("y1",cfg.bottom); t.setAttribute("y2",cfg.bottom+cfg.tickLen);
    t.setAttribute("stroke","#000"); t.setAttribute("stroke-width","2");
  });
  yearLabels.forEach(lab=>{
    const tx = mk("text", g);
    
    
    tx.setAttribute("x",xs(Number(lab))); tx.setAttribute("y",cfg.xLabelY);
    tx.setAttribute("text-anchor","middle"); tx.setAttribute("font-size",cfg.xFont);
    tx.setAttribute("letter-spacing",cfg.xLS);
    tx.textContent = lab;
  });
  // y title
  const yt = mk("text", g);
  
  
  yt.setAttribute("transform","translate("+cfg.yTitleX+","+cfg.yTitleY+") rotate(-90)");
  yt.setAttribute("text-anchor","middle"); yt.setAttribute("font-size",cfg.yTitleFont);
  yt.textContent = "TWS change (cm)";
  // panel letter
  const pl = mk("text", g);
  
  
  pl.setAttribute("x",cfg.letterX); pl.setAttribute("y",cfg.letterY);
  pl.setAttribute("font-size",cfg.letterFont); pl.setAttribute("letter-spacing",cfg.letterLS);
  pl.textContent = cfg.letter;
  return cfg;
}

function series(cfg, vals, offset, color, width, dash, name){
  const pts = vals.map((v,i)=> cfg.xs(monthTime(i,offset)).toFixed(1)+","+cfg.ys(v).toFixed(1)).join(" ");
  const p = mk("polyline", cfg.plot);
  
  
  p.setAttribute("points", pts);
  p.setAttribute("fill","none"); p.setAttribute("stroke",color); p.setAttribute("stroke-width",width);
  p.setAttribute("stroke-linejoin","round");
  if (dash) p.setAttribute("stroke-dasharray", dash);
}

const A = makePanel({name:"panel-a", left:380, right:1837, top:119, bottom:722,
  x0:482, xPerYear:112.5, yZero:421, yPerUnit:40, yTicks:yTicksA, grid:true, gridStart:424, gridStep:189,
  frameW:3, tickLen:14, yLabelX:334, yFont:38, yLS:4, xLabelY:778, xFont:40, xLS:7,
  yTitleX:227, yTitleY:422, yTitleFont:35, letter:"(a)", letterX:400, letterY:163, letterFont:46, letterLS:6});
series(A, aSlow, 0, "#ffc0cb", 2.5, null, "series-a-slow");
series(A, aStream, 0, "#ffa500", 2.5, null, "series-a-stream");
series(A, aFast, 0, "#ff0000", 2.5, null, "series-a-fast");
series(A, aFlood, 0, "#a020f0", 2.5, null, "series-a-flood");
series(A, aSoil, 0, "#228B22", 3.2, null, "series-a-soil");
series(A, aSnow, 0, "#0000ff", 3, null, "series-a-snow");
series(A, aTotal, 0, "#000", 3.6, null, "series-a-total");
series(A, aGrace, graceStartOffset, "#000", 3.6, "11,8", "series-a-grace");

const B = makePanel({name:"panel-b", left:114, right:998, top:989, bottom:1569,
  x0:175, xPerYear:68.75, yZero:1279, yPerUnit:33.6, yTicks:yTicksBC, grid:false,
  frameW:2.5, tickLen:14, yLabelX:88, yFont:32, yLS:0, xLabelY:1620, xFont:32, xLS:0,
  yTitleX:30, yTitleY:1280, yTitleFont:33, letter:"(b)", letterX:126, letterY:1034, letterFont:36, letterLS:0});
series(B, bGrace, graceStartOffset, "#666", 2.2, "9,4,2,4", "series-b-grace");
series(B, bSdSoil, 0, "#228B22", 2.2, "8,5", "series-b-sd-soil");
series(B, bPeatSoil, 0, "#228B22", 2.2, null, "series-b-peat-soil");
series(B, bSdTotal, 0, "#000", 2.5, "8,5", "series-b-sd-total");
series(B, bPeatTotal, 0, "#000", 2.5, null, "series-b-peat-total");

const C = makePanel({name:"panel-c", left:1177, right:2060, top:989, bottom:1569,
  x0:1239, xPerYear:68.6, yZero:1279, yPerUnit:33.6, yTicks:yTicksBC, grid:false,
  frameW:2.5, tickLen:14, yLabelX:1150, yFont:32, yLS:0, xLabelY:1620, xFont:32, xLS:0,
  yTitleX:1093, yTitleY:1280, yTitleFont:33, letter:"(c)", letterX:1188, letterY:1034, letterFont:36, letterLS:0});
series(C, cSdSoil, 0, "#228B22", 2.2, "8,5", "series-c-sd-soil");
series(C, cPeatSoil, 0, "#228B22", 2.2, null, "series-c-peat-soil");
series(C, cSdTotal, 0, "#000", 2.5, "8,5", "series-c-sd-total");
series(C, cPeatTotal, 0, "#000", 2.5, null, "series-c-peat-total");
</script>
</body></html>
